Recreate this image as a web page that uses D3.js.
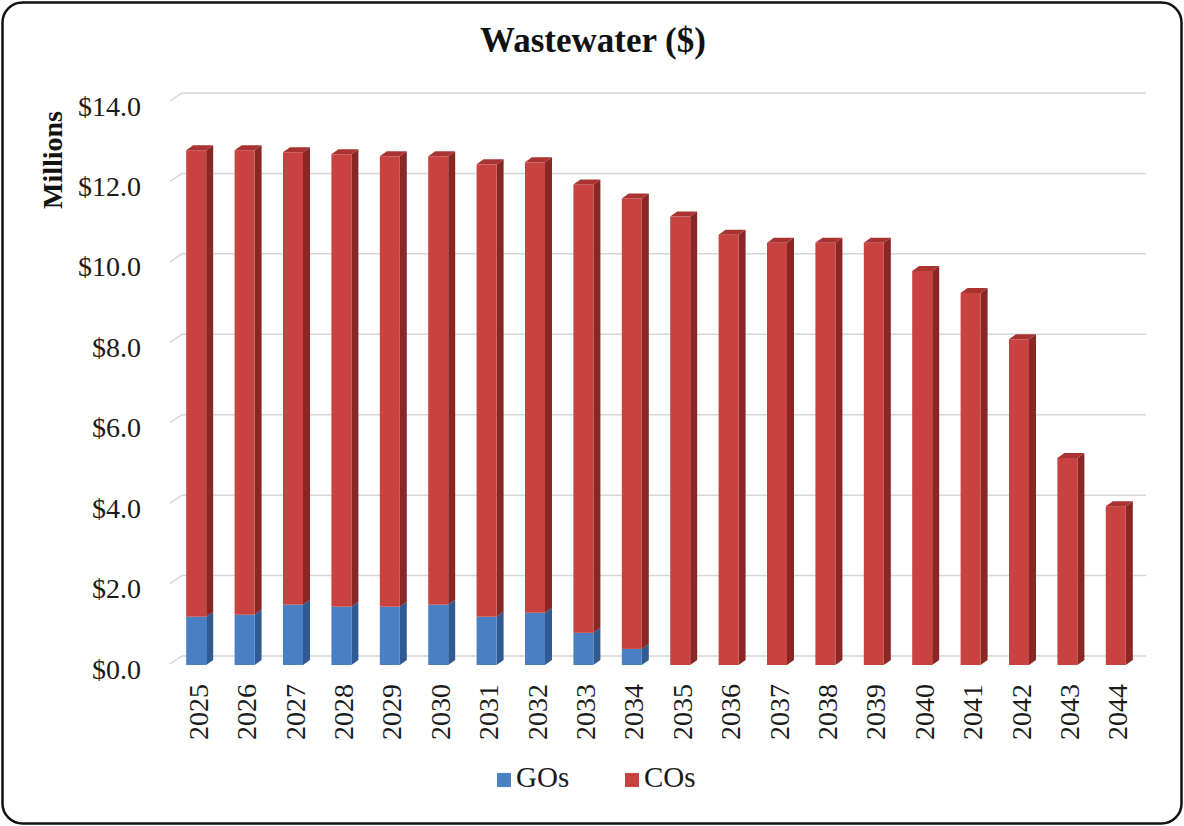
<!DOCTYPE html>
<html>
<head>
<meta charset="utf-8">
<script src="https://cdn.jsdelivr.net/npm/d3@7/dist/d3.min.js"></script>
<style>
  html, body { margin: 0; padding: 0; background: #fff; }
  svg { display: block; font-family: "Liberation Serif", "Times New Roman", serif; }
</style>
</head>
<body>
<svg id="chart" width="1184" height="826"></svg>
<script>
// Wastewater debt service, $ millions
const years = ['2025', '2026', '2027', '2028', '2029', '2030', '2031', '2032', '2033', '2034',
               '2035', '2036', '2037', '2038', '2039', '2040', '2041', '2042', '2043', '2044'];
const gos = [1.2, 1.25, 1.5, 1.45, 1.45, 1.5, 1.2, 1.3, 0.8, 0.4,
             0, 0, 0, 0, 0, 0, 0, 0, 0, 0];
const cos = [11.6, 11.55, 11.25, 11.25, 11.2, 11.15, 11.25, 11.2, 11.15, 11.2,
             11.15, 10.7, 10.5, 10.5, 10.5, 9.8, 9.25, 8.1, 5.15, 3.95];
const yTicks = [0, 2, 4, 6, 8, 10, 12, 14];

const svg = d3.select('#chart');
const W = 1184, H = 826;

// outer frame
svg.append('rect')
    .attr('x', 2.5).attr('y', 2.5)
    .attr('width', W - 5).attr('height', H - 5)
    .attr('rx', 20).attr('ry', 20)
    .attr('fill', '#fff')
    .attr('stroke', '#111')
    .attr('stroke-width', 2.5);

const x = d3.scaleBand().domain(years).range([172, 1140]).paddingInner(0.587).paddingOuter(0.2935);
const y = d3.scaleLinear().domain([0, 14]).range([665, 102]);

// 3D depth
const dx = 7, dy = -5;
const wallDx = 12, wallDy = -9;

// back wall gridlines
const grid = svg.append('g');
yTicks.forEach(v => {
    const yy = y(v);
    grid.append('path')
        .attr('d', `M${x.range()[0] - 2},${yy - 1} L${x.range()[0] + wallDx - 2},${yy + wallDy} L1146,${yy + wallDy}`)
        .attr('fill', 'none')
        .attr('stroke', '#d6d6d6')
        .attr('stroke-width', 1.5);
});

// stacked data
const stack = d3.stack().keys(['gos', 'cos'])(years.map((yr, i) => ({ year: yr, gos: gos[i], cos: cos[i] })));
const colors = {
    gos: { front: '#4a7fc4', side: '#2f5a93', top: '#6b97d0' },
    cos: { front: '#c8433f', side: '#8a2623', top: '#a83330' }
};

function drawBlock(g, x0, w, yTop, yBot, c, drawTop) {
    // side face
    g.append('path')
        .attr('d', `M${x0 + w},${yBot} L${x0 + w + dx},${yBot + dy} L${x0 + w + dx},${yTop + dy} L${x0 + w},${yTop} Z`)
        .attr('fill', c.side);
    // front face
    g.append('rect')
        .attr('x', x0).attr('y', yTop)
        .attr('width', w).attr('height', Math.max(0, yBot - yTop))
        .attr('fill', c.front);
    if (drawTop) {
        g.append('path')
            .attr('d', `M${x0},${yTop} L${x0 + dx},${yTop + dy} L${x0 + w + dx},${yTop + dy} L${x0 + w},${yTop} Z`)
            .attr('fill', c.top);
    }
}

const bars = svg.append('g');
years.forEach((yr, i) => {
    const g = bars.append('g');
    const x0 = x(yr), w = x.bandwidth();
    stack.forEach(layer => {
        const d = layer[i];
        if (d[1] - d[0] <= 0) return;
        const isTop = layer.key === 'cos';
        drawBlock(g, x0, w, y(d[1]), y(d[0]), colors[layer.key], isTop);
    });
});

// y tick labels
svg.append('g').selectAll('text')
    .data(yTicks)
    .join('text')
    .attr('x', 141)
    .attr('y', d => y(d) + 4)
    .attr('text-anchor', 'end')
    .attr('dominant-baseline', 'central')
    .attr('font-size', 28)
    .attr('fill', '#1a1a1a')
    .text(d => '$' + d.toFixed(1));

// x labels, rotated
svg.append('g').selectAll('text')
    .data(years)
    .join('text')
    .attr('transform', d => `translate(${x(d) + x.bandwidth() / 2 + 2},684) rotate(-90)`)
    .attr('text-anchor', 'end')
    .attr('dominant-baseline', 'central')
    .attr('font-size', 28)
    .attr('fill', '#1a1a1a')
    .text(d => d);

// title
svg.append('text')
    .attr('x', 593).attr('y', 40)
    .attr('text-anchor', 'middle')
    .attr('dominant-baseline', 'central')
    .attr('font-size', 35)
    .attr('font-weight', 'bold')
    .attr('fill', '#111')
    .text('Wastewater ($)');

// y axis title
svg.append('text')
    .attr('transform', 'translate(52,160) rotate(-90)')
    .attr('text-anchor', 'middle')
    .attr('dominant-baseline', 'central')
    .attr('font-size', 28)
    .attr('font-weight', 'bold')
    .attr('fill', '#111')
    .text('Millions');

// legend
const legend = [
    { label: 'GOs', color: colors.gos.front, x: 497 },
    { label: 'COs', color: colors.cos.front, x: 625 }
];
const lg = svg.append('g').selectAll('g').data(legend).join('g')
    .attr('transform', d => `translate(${d.x},787)`);
lg.append('rect')
    .attr('x', 0).attr('y', -14)
    .attr('width', 14).attr('height', 14)
    .attr('fill', d => d.color);
lg.append('text')
    .attr('x', 19).attr('y', 0)
    .attr('font-size', 29)
    .attr('fill', '#1a1a1a')
    .text(d => d.label);
</script>
</body>
</html>
